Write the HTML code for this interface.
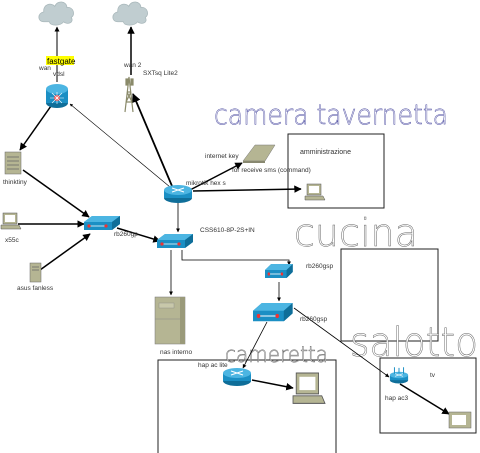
<!DOCTYPE html>
<html><head><meta charset="utf-8"><style>
html,body{margin:0;padding:0;background:#fff;width:480px;height:453px;overflow:hidden}
svg{display:block;font-family:"Liberation Sans",sans-serif}
.l{font-size:6.5px;fill:#333}
.o{font-family:"DejaVu Sans","Liberation Sans",sans-serif;fill:#fff}
</style></head><body>
<svg width="480" height="453" viewBox="0 0 480 453" xmlns="http://www.w3.org/2000/svg">
<defs>
<marker id="a" viewBox="0 0 10 10" refX="9" refY="5" markerWidth="5" markerHeight="5" orient="auto"><path d="M0,0L10,5L0,10z" fill="#000"/></marker>
<g id="cloud"><path d="M-12,8 C-18,8 -18,0 -12,-1 C-13,-8 -5,-10 -2,-6 C0,-12 9,-11 9,-5 C15,-6 17,2 13,4 C16,9 9,11 6,8 C3,12 -6,12 -7,8 Z" fill="#c0cdd0" stroke="#a9b8bb" stroke-width="0.7"/></g>
<g id="sw"><path d="M0,6 L8,0 L36,0 L36,8 L28,14 L0,14 Z" fill="#1b8fc4"/><path d="M0,6 L8,0 L36,0 L28,6 Z" fill="#4cb5e2"/><path d="M28,6 L36,0 L36,8 L28,14Z" fill="#0f6e99"/><line x1="5" y1="10" x2="22" y2="10" stroke="#fff" stroke-width="0.8"/><circle cx="5" cy="10" r="1.6" fill="#e33"/><circle cx="22" cy="10" r="1.6" fill="#e33"/></g>
<g id="rt"><ellipse cx="0" cy="8" rx="14" ry="5" fill="#0f6e99"/><rect x="-14" y="0" width="28" height="8" fill="#1b8fc4"/><ellipse cx="0" cy="0" rx="14" ry="5" fill="#4cb5e2"/><path d="M-6,-2 L6,2 M-6,2 L6,-2" stroke="#fff" stroke-width="1"/></g>
<g id="pc"><rect x="2" y="0" width="14" height="11" fill="#b5b593" stroke="#555" stroke-width="0.5"/><rect x="4" y="2" width="10" height="7" fill="#fff"/><path d="M0,12 L18,12 L20,16 L0,16 Z" fill="#b5b593" stroke="#555" stroke-width="0.5"/></g>
</defs>

<g transform="translate(57,13) scale(1.1)"><use href="#cloud"/></g>
<g transform="translate(131,13) scale(1.1)"><use href="#cloud"/></g>

<rect x="288" y="134" width="96" height="74" fill="none" stroke="#222" stroke-width="1"/>
<rect x="341" y="249" width="97" height="92" fill="none" stroke="#222" stroke-width="1"/>
<rect x="380" y="358" width="96" height="75" fill="none" stroke="#222" stroke-width="1"/>
<rect x="158" y="360" width="178" height="94" fill="none" stroke="#222" stroke-width="1"/>

<text x="214" y="124" font-size="28" class="o" font-weight="200" stroke="#4a4aa0" stroke-width="0.5" textLength="234" lengthAdjust="spacingAndGlyphs">camera tavernetta</text>
<text x="294" y="246" font-size="38" class="o" font-weight="200" stroke="#666" stroke-width="0.5" textLength="124" lengthAdjust="spacingAndGlyphs">cucina</text>
<text x="350" y="356" font-size="40" class="o" font-weight="200" stroke="#666" stroke-width="0.5" textLength="128" lengthAdjust="spacingAndGlyphs">salotto</text>
<text x="225" y="362" font-size="22" class="o" font-weight="200" stroke="#666" stroke-width="0.5" textLength="103" lengthAdjust="spacingAndGlyphs">cameretta</text>

<g stroke="#000" fill="none">
<line x1="57" y1="82" x2="57" y2="27" stroke-width="1" marker-end="url(#a)"/>
<line x1="170" y1="187" x2="70" y2="104" stroke-width="0.6" marker-end="url(#a)"/>
<line x1="172" y1="186" x2="133" y2="94" stroke-width="1.8" marker-end="url(#a)"/>
<line x1="131" y1="75" x2="131" y2="27" stroke-width="1.5" marker-end="url(#a)"/>
<line x1="51" y1="106" x2="20" y2="150" stroke-width="1.5" marker-end="url(#a)"/>
<line x1="23" y1="170" x2="89" y2="217" stroke-width="1.5" marker-end="url(#a)"/>
<line x1="18" y1="224" x2="84" y2="224" stroke-width="1.5" marker-end="url(#a)"/>
<line x1="40" y1="270" x2="90" y2="234" stroke-width="1.5" marker-end="url(#a)"/>
<line x1="117" y1="228" x2="160" y2="241" stroke-width="1.5" marker-end="url(#a)"/>
<line x1="178" y1="203" x2="178" y2="232" stroke-width="0.8" marker-end="url(#a)"/>
<line x1="190" y1="190" x2="242" y2="163" stroke-width="1.5" marker-end="url(#a)"/>
<line x1="193" y1="191" x2="301" y2="189" stroke-width="1.5" marker-end="url(#a)"/>
<line x1="171" y1="250" x2="171" y2="295" stroke-width="0.8" marker-end="url(#a)"/>
<polyline points="182,250 182,260 289,260 289,265" stroke-width="0.8" marker-end="url(#a)"/>
<line x1="279" y1="282" x2="279" y2="301" stroke-width="0.8" marker-end="url(#a)"/>
<line x1="267" y1="322" x2="243" y2="368" stroke-width="0.8" marker-end="url(#a)"/>
<line x1="294" y1="308" x2="389" y2="377" stroke-width="0.8" marker-end="url(#a)"/>
<line x1="252" y1="380" x2="293" y2="388" stroke-width="1.5" marker-end="url(#a)"/>
<line x1="400" y1="384" x2="449" y2="414" stroke-width="1.5" marker-end="url(#a)"/>
</g>

<g transform="translate(57,89)"><ellipse cx="0" cy="14" rx="11" ry="5" fill="#0f6e99"/><rect x="-11" y="0" width="22" height="14" fill="#1b8fc4"/><ellipse cx="0" cy="0" rx="11" ry="5" fill="#4cb5e2"/><circle cx="0" cy="9" r="3" fill="#e33"/><path d="M-7,9 H7 M0,3 V15 M-5,4 L5,14 M5,4 L-5,14" stroke="#fff" stroke-width="0.6"/></g>
<g transform="translate(122,77)" stroke="#8a8a6a" stroke-width="1.2" fill="none"><path d="M3,35 L7,0 L11,35 M4,25 L10,25 M5,15 L9,15 M4,25 L9,15 M10,25 L5,15"/><rect x="4" y="2" width="2" height="6" fill="#8a8a6a"/><rect x="9" y="2" width="2" height="6" fill="#8a8a6a"/></g>
<g transform="translate(5,152)"><rect width="16" height="22" fill="#b5b593" stroke="#666" stroke-width="0.5"/><path d="M2,5H14M2,9H14M2,13H14M2,17H14" stroke="#666" stroke-width="0.8"/></g>
<use href="#pc" x="1" y="213"/>
<g transform="translate(30,263)"><rect width="11" height="19" fill="#b5b593" stroke="#666" stroke-width="0.5"/><path d="M2,4H9M2,7H9" stroke="#666" stroke-width="0.7"/></g>
<use href="#sw" x="84" y="216"/>
<use href="#sw" x="157" y="234"/>
<use href="#rt" x="178" y="190"/>
<g transform="translate(243,145)"><path d="M0,16 L12,0 L32,0 L22,16 Z" fill="#b5b593" stroke="#777" stroke-width="0.5"/><path d="M0,16 L22,16 L22,18 L0,18Z" fill="#888870"/></g>
<use href="#pc" x="305" y="184"/>
<g transform="translate(155,297)"><rect width="30" height="47" fill="#b5b593" stroke="#777" stroke-width="0.5"/><rect x="4" y="6" width="15" height="5" fill="#c8c8aa" stroke="#888" stroke-width="0.4"/><line x1="0" y1="22" x2="30" y2="22" stroke="#888" stroke-width="0.5"/><rect x="25" y="0" width="5" height="47" fill="#9a9a7a"/></g>
<g transform="translate(265,264) scale(0.77,1)"><use href="#sw"/></g>
<g transform="translate(253,303) scale(1.1,1.3)"><use href="#sw"/></g>
<use href="#rt" x="237" y="373"/>
<g transform="translate(293,373) scale(1.6,1.9)"><use href="#pc"/></g>
<g transform="translate(399,375) scale(0.65)"><use href="#rt"/><path d="M-7,-2 V-12 M7,-2 V-12 M0,-3 V-11" stroke="#1b8fc4" stroke-width="1.5"/></g>
<g transform="translate(449,412)"><rect width="22" height="16" fill="#b5b593" stroke="#666" stroke-width="0.5"/><rect x="3" y="3" width="14" height="10" fill="#fff"/></g>

<rect x="46" y="56" width="28" height="9" fill="#ffff00"/>
<text x="47" y="64" font-size="8" fill="#000">fastgate</text>
<text x="39" y="70" class="l">wan</text>
<text x="53" y="76" class="l">vdsl</text>
<text x="124" y="67" class="l">wan 2</text>
<text x="143" y="75" class="l">SXTsq Lite2</text>
<text x="3" y="184" class="l">thinktiny</text>
<text x="5" y="242" class="l">x55c</text>
<text x="17" y="290" class="l">asus fanless</text>
<text x="114" y="236" class="l">rb260gp</text>
<text x="186" y="185" class="l">mikrotik hex s</text>
<text x="205" y="158" class="l">internet key</text>
<text x="232" y="172" class="l">for receive sms (command)</text>
<text x="300" y="154" font-size="7" fill="#333">amministrazione</text>
<text x="200" y="232" class="l">CSS610-8P-2S+IN</text>
<text x="306" y="268" class="l">rb260gsp</text>
<text x="300" y="321" class="l">rb260gsp</text>
<text x="160" y="354" class="l">nas interno</text>
<text x="198" y="367" class="l">hap ac lite</text>
<text x="385" y="400" class="l">hap ac3</text>
<text x="430" y="377" class="l">tv</text>
</svg>
</body></html>
